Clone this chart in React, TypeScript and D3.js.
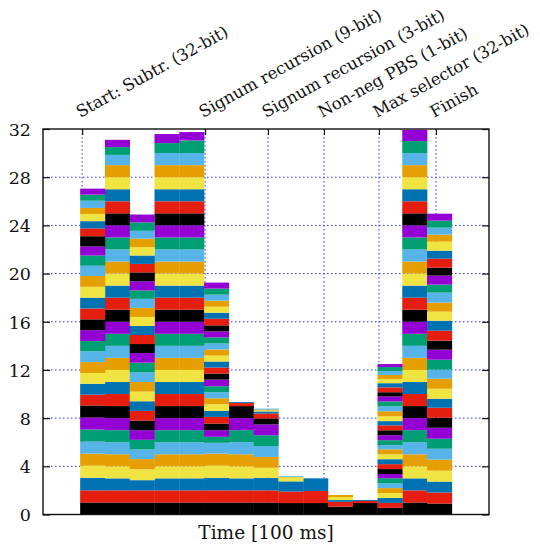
import * as d3 from 'd3';
import { useEffect, useRef } from 'react';

// gnuplot default line colours, bottom of the stack first
const colours = ['#000000', '#e51e10', '#0072b2', '#f0e442', '#e69f00', '#56b4e9', '#009e73', '#9400d3'];

const markerTimes = [0.08, 5.04, 7.58, 9.84, 12.06, 14.36];
const markerLabels = [
  'Start: Subtr. (32-bit)',
  'Signum recursion (9-bit)',
  'Signum recursion (3-bit)',
  'Non-neg PBS (1-bit)',
  'Max selector (32-bit)',
  'Finish'
];
const yTicks = [0, 4, 8, 12, 16, 20, 24, 28, 32];

// busy share of each of the 32 threads, one array per 100 ms slot
const slot01 = [1, 1, 1.05, 1, 1, 1, 1, 1, 1, 0.9, 0.9, 0.9, 0.9, 0.9, 0.85, 0.9, 0.9, 0.9, 0.9, 0.9, 0.9, 0.85, 0.85, 0.75, 0.85, 0.65, 0.6, 0.6, 0.5, 0.6, 0.5, 0.5];
const slot02 = [1, 1, 1, 1, 1, 1, 1, 1, 1, 1, 1, 1, 1, 1, 1, 1, 1, 1, 1, 1, 1, 1, 1, 1, 1, 1, 1, 1, 1, 0.85, 0.65, 0.6];
const slot03 = [1, 1, 0.85, 0.9, 0.85, 0.8, 0.8, 0.8, 0.8, 0.8, 0.8, 0.8, 0.8, 0.8, 0.8, 0.8, 0.75, 0.75, 0.75, 0.75, 0.75, 0.75, 0.7, 0.75, 0.75, 0.7, 0.7, 0.7, 0.7, 0.65, 0.7, 0.65];
const slot04 = [1, 1, 1, 1, 1, 1, 1, 1, 1, 1, 1, 1, 1, 1, 1, 1, 1, 1, 1, 1, 1, 1, 1, 1, 1, 1, 1, 1, 1, 1, 0.83, 0.75];
const slot05 = [1, 1, 1, 1, 1, 1, 1, 1, 1, 1, 1, 1, 1, 1, 1, 1, 1, 1, 1, 1, 1, 1, 1, 1, 1, 1, 1, 1, 1, 1, 1.05, 0.7];
const slot06 = [1, 1, 1.05, 1, 1, 0.9, 0.5, 0.55, 0.55, 0.55, 0.5, 0.55, 0.5, 0.5, 0.5, 0.55, 0.5, 0.5, 0.5, 0.5, 0.5, 0.5, 0.5, 0.5, 0.5, 0.55, 0.5, 0.5, 0.5, 0.5, 0.5, 0.5];
const slot07 = [1, 1, 1, 1, 1, 1, 1, 1, 1, 0.25, 0.08];
const slot08 = [1, 1, 1.05, 0.83, 0.9, 0.9, 0.9, 0.9, 0.5, 0.4, 0.17, 0.08, 0.08, 0.08];
const slot09 = [0.95, 0.95, 0.85, 0.33, 0.03, 0.07];
const slot10 = [0.95, 1, 1.05];
const slot11 = [0.65, 0.4, 0.15, 0.25, 0.17];
const slot12 = [0.95, 0.17, 0.08];
const slot13 = [0.55, 0.41, 0.41, 0.41, 0.41, 0.41, 0.41, 0.35, 0.41, 0.41, 0.41, 0.41, 0.41, 0.35, 0.41, 0.41, 0.41, 0.41, 0.35, 0.41, 0.41, 0.41, 0.41, 0.41, 0.35, 0.4, 0.35, 0.35, 0.33, 0.33, 0.33, 0.25];
const slot14 = [1, 1, 1, 1, 1, 1, 1, 1, 1, 1, 1, 1, 1, 1, 1, 1, 1, 1, 1, 1, 1, 1, 1, 1, 1, 1, 1, 1, 1, 1, 1, 0.93];
const slot15 = [0.91, 0.91, 0.91, 0.91, 0.91, 0.91, 0.83, 0.91, 0.83, 0.83, 0.75, 0.83, 0.83, 0.75, 0.83, 0.83, 0.75, 0.83, 0.83, 0.75, 0.75, 0.83, 0.66, 0.75, 0.66, 0.75, 0.66, 0.75, 0.58, 0.58, 0.58, 0.58];

const slots = [slot01, slot02, slot03, slot04, slot05, slot06, slot07, slot08, slot09, slot10, slot11, slot12, slot13, slot14, slot15];

export default function App() {
  const svgRef = useRef(null);
  const width = 540;
  const height = 546;
  const marginTop = 129;
  const marginRight = 51;
  const marginBottom = 31.5;
  const marginLeft = 43;
  const font = "'DejaVu Serif', serif";

  useEffect(() => {
    const x = d3.scaleLinear().domain([-1.5, 16.5]).range([marginLeft, width - marginRight]);
    const y = d3.scaleLinear().domain([0, 32]).range([height - marginBottom, marginTop]);

    const svg = d3.select(svgRef.current);
    svg.selectAll('*').remove();

    // grid behind the bars
    svg
      .append('g')
      .selectAll('line')
      .data(yTicks.filter((d) => d > 0 && d < 32))
      .join('line')
      .attr('x1', marginLeft)
      .attr('x2', width - marginRight)
      .attr('y1', (d) => y(d))
      .attr('y2', (d) => y(d))
      .attr('stroke', '#3030ff')
      .attr('stroke-width', 1)
      .attr('stroke-dasharray', '1.5,2.5');
    svg
      .append('g')
      .selectAll('line')
      .data(markerTimes)
      .join('line')
      .attr('x1', (d) => x(d))
      .attr('x2', (d) => x(d))
      .attr('y1', y(0))
      .attr('y2', y(32))
      .attr('stroke', '#3030ff')
      .attr('stroke-width', 1)
      .attr('stroke-dasharray', '1.5,2.5');

    // stacked bars
    const keys = d3.range(32);
    const table = slots.map((s, i) => {
      const row = { t: i };
      keys.forEach((k) => (row[k] = s[k] ?? 0));
      return row;
    });
    const series = d3.stack().keys(keys)(table);
    svg
      .append('g')
      .selectAll('g')
      .data(series)
      .join('g')
      .attr('fill', (d) => colours[d.key % 8])
      .selectAll('rect')
      .data((d) => d.filter((p) => p[1] - p[0] > 0))
      .join('rect')
      .attr('x', (p) => x(p.data.t))
      .attr('width', x(1) - x(0) + 0.3)
      .attr('y', (p) => y(p[1]))
      .attr('height', (p) => y(p[0]) - y(p[1]));

    // axes
    svg
      .append('g')
      .attr('transform', `translate(${marginLeft},0)`)
      .call(d3.axisLeft(y).tickValues(yTicks).tickSize(-7).tickPadding(12))
      .call((g) => g.select('.domain').remove())
      .call((g) => g.selectAll('.tick line').attr('stroke', '#111').attr('stroke-width', 1.2))
      .call((g) =>
        g.selectAll('.tick text').attr('font-family', font).attr('font-size', 17.5).attr('fill', '#111').attr('dy', '0.36em')
      );
    svg
      .append('g')
      .attr('transform', `translate(${width - marginRight},0)`)
      .call(d3.axisRight(y).tickValues(yTicks).tickSize(-7).tickFormat(() => ''))
      .call((g) => g.select('.domain').remove())
      .call((g) => g.selectAll('.tick line').attr('stroke', '#111').attr('stroke-width', 1.2));
    svg
      .append('g')
      .attr('transform', `translate(0,${marginTop})`)
      .call(d3.axisTop(x).tickValues(markerTimes).tickSize(-6).tickFormat(() => ''))
      .call((g) => g.select('.domain').remove())
      .call((g) => g.selectAll('.tick line').attr('stroke', '#111').attr('stroke-width', 1.2));

    svg
      .append('rect')
      .attr('x', marginLeft)
      .attr('y', marginTop)
      .attr('width', width - marginLeft - marginRight)
      .attr('height', height - marginTop - marginBottom)
      .attr('fill', 'none')
      .attr('stroke', '#111')
      .attr('stroke-width', 1.4);

    // phase labels above the plot
    svg
      .append('g')
      .selectAll('text')
      .data(markerTimes)
      .join('text')
      .attr('transform', (d) => `translate(${x(d) - 2},${marginTop - 11}) rotate(-29)`)
      .attr('font-family', font)
      .attr('font-size', 16.5)
      .attr('fill', '#111')
      .text((d, i) => markerLabels[i]);

    svg
      .append('text')
      .attr('x', (marginLeft + width - marginRight) / 2)
      .attr('y', height - 7)
      .attr('text-anchor', 'middle')
      .attr('font-family', font)
      .attr('font-size', 18.5)
      .attr('fill', '#111')
      .text('Time [100 ms]');
  }, []);

  return (
    <svg
      ref={svgRef}
      width={width}
      height={height}
      viewBox={`0 0 ${width} ${height}`}
      style={{ position: 'absolute', left: 0, top: 0, background: '#fff' }}
    ></svg>
  );
}
